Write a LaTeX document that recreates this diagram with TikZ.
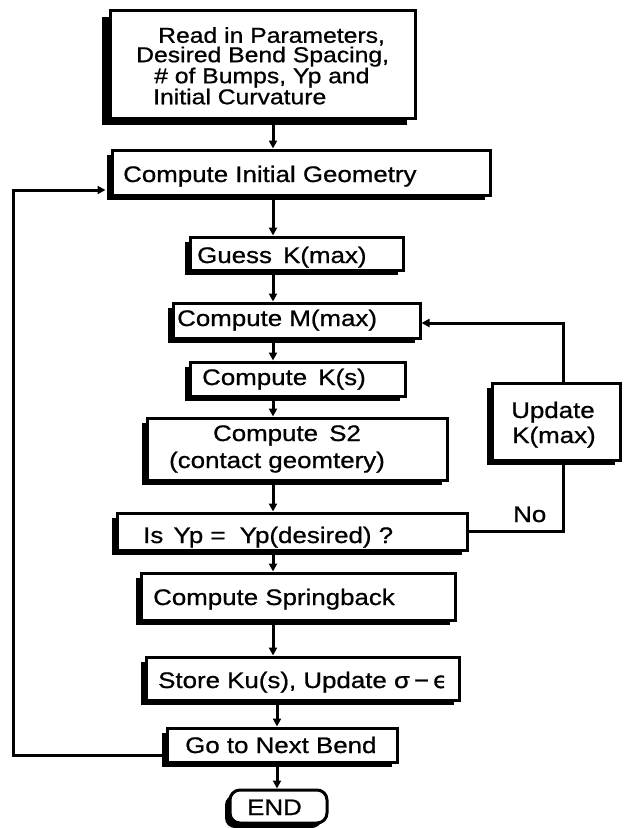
\documentclass[tikz,border=0pt]{standalone}
\usepackage{fontspec}
\setmainfont{Liberation Sans}[FakeStretch=1.15,FakeBold=0.8]
\newfontfamily\dvfont{DejaVu Sans}[FakeBold=0.8]
\usetikzlibrary{shadows,arrows.meta}
\begin{document}
\begin{tikzpicture}[x=1pt,y=-1pt,
  box/.style={draw=black, line width=3pt, fill=white, inner sep=0pt,
    drop shadow={shadow xshift=-5pt, shadow yshift=-5pt, fill=black, opacity=1}},
  bigbox/.style={draw=black, line width=3pt, fill=white, inner sep=0pt,
    drop shadow={shadow xshift=-8pt, shadow yshift=-7pt, fill=black, opacity=1}},
  lbl/.style={anchor=base west, inner sep=0pt, font=\fontsize{22.5}{22.5}\selectfont},
  clbl/.style={anchor=base, inner sep=0pt, font=\fontsize{22.5}{22.5}\selectfont},
  arr/.style={line width=3pt, -{Triangle[length=8pt,width=8pt]}},
  ln/.style={line width=3pt}]
\useasboundingbox (0,0) rectangle (626,828);

% boxes
\node[bigbox, minimum width=305pt, minimum height=108pt] (read) at (262.5,64) {};
\node[box, minimum width=378pt, minimum height=45pt] (cig) at (301,172.5) {};
\node[box, minimum width=213pt, minimum height=33pt] (guess) at (296.5,253.5) {};
\node[box, minimum width=247pt, minimum height=35pt] (cmm) at (296.5,320.5) {};
\node[box, minimum width=215pt, minimum height=34pt] (cks) at (297.5,379) {};
\node[box, minimum width=300pt, minimum height=62pt] (s2) at (297,449) {};
\node[box, minimum width=128pt, minimum height=77pt] (upd) at (556,421.5) {};
\node[box, minimum width=350pt, minimum height=37pt] (isyp) at (292,531.5) {};
\node[box, minimum width=314pt, minimum height=47pt] (spr) at (298,596.5) {};
\node[box, minimum width=313pt, minimum height=43pt] (store) at (302.5,678.5) {};
\node[box, minimum width=230pt, minimum height=34pt] (goto) at (282,745) {};
\node[box, rounded corners=10pt, minimum width=97pt, minimum height=33pt] (end) at (278.5,806.5) {};

% texts
\node[anchor=north west, inner sep=0pt, align=left,
  font=\fontsize{21.5}{19.4}\selectfont] (tread) at (136,27)
  {\hspace*{22pt}Read in Parameters,\\
   Desired Bend Spacing,\\
   \hspace*{18pt}\# of Bumps, Yp and\\
   \hspace*{17pt}Initial Curvature};
\node[lbl] (tcig) at (123,182) {Compute Initial Geometry};
\node[lbl] (tguess) at (197,263) {Guess\hspace{4pt} K(max)};
\node[lbl] (tcmm) at (177,326) {Compute M(max)};
\node[lbl] (tcks) at (202,385) {Compute\hspace{4pt} K(s)};
\node[clbl] (ts2a) at (287,441) {Compute\hspace{4pt} S2};
\node[clbl] (ts2b) at (277,468) {(contact geomtery)};
\node[clbl] (tupa) at (553,418) {Update};
\node[clbl] (tupb) at (554,443) {K(max)};
\node[lbl] (tisyp) at (143,543) {Is\hspace{3pt} Yp =\hspace{7pt} Yp(desired) ?};
\node[lbl] (tspr) at (153,605) {Compute Springback};
\node[lbl] (tstore) at (158,688) {Store Ku(s), Update σ\hspace{4pt}−\hspace{4pt}{\dvfont ϵ}};
\node[lbl] (tgoto) at (185,753) {Go to Next Bend};
\node[lbl] (tend) at (247,815) {END};
\node[lbl] (tno) at (513,522) {No};

% helper coordinates
\coordinate (sp1) at (273,0);
\coordinate (sp2) at (277,0);
\coordinate (ux) at (563,0);
\coordinate (lx) at (13,0);
\coordinate (ly1) at (0,755);
\coordinate (ly2) at (0,190);
\coordinate (uy) at (0,323);

% main flow
\draw[arr] (read.south -| sp1) -- (cig.north -| sp1);
\draw[arr] (cig.south -| sp1) -- (guess.north -| sp1);
\draw[arr] (guess.south -| sp1) -- (cmm.north -| sp1);
\draw[arr] (cmm.south -| sp1) -- (cks.north -| sp1);
\draw[arr] (cks.south -| sp1) -- (s2.north -| sp1);
\draw[arr] (s2.south -| sp1) -- (isyp.north -| sp1);
\draw[arr] (isyp.south -| sp1) -- (spr.north -| sp1);
\draw[arr] (spr.south -| sp1) -- (store.north -| sp1);
\draw[arr] (store.south -| sp2) -- (goto.north -| sp2);
\draw[arr] (goto.south -| sp2) -- (end.north -| sp2);

% update loop
\draw[ln] (isyp.east) -- (isyp.east -| ux) -- (upd.south -| ux);
\draw[arr] (upd.north -| ux) -- (ux |- uy) -- (cmm.east |- uy);

% next bend loop
\draw[arr, shorten >=5pt] (goto.west |- ly1) -- (lx |- ly1) -- (lx |- ly2) -- (cig.west |- ly2);
\end{tikzpicture}
\end{document}
